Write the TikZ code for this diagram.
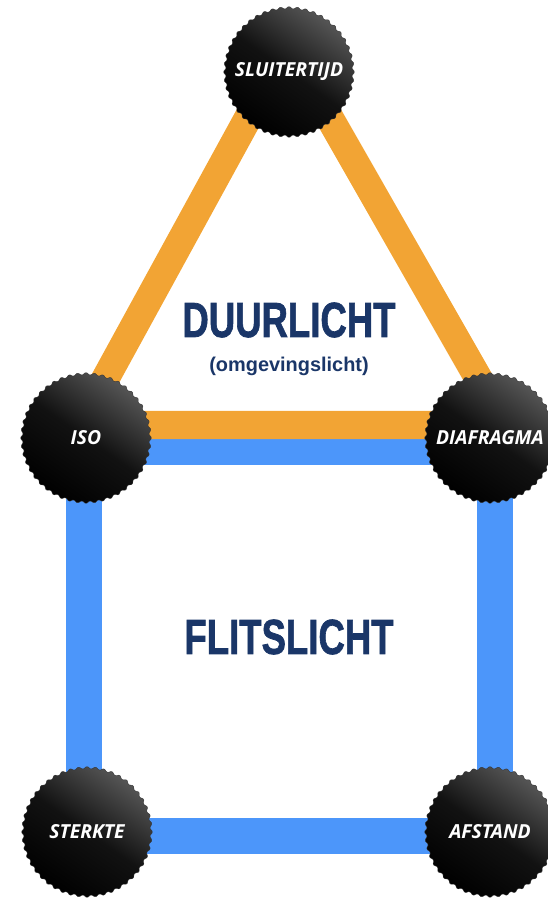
\documentclass[tikz,border=0pt]{standalone}
\usepackage{fontspec}
\setmainfont{Liberation Sans}
\setsansfont{Open Sans}
\newfontfamily\dikfont[BoldFeatures={FakeBold=1.6}]{Liberation Sans}
\usetikzlibrary{shapes.geometric,calc}
\definecolor{duurorange}{RGB}{242,164,52}
\definecolor{flitsblue}{RGB}{76,150,250}
\definecolor{titelblauw}{RGB}{26,54,104}
\newcommand{\knoptekst}[1]{\makebox[0pt]{#1}}

\tikzset{
	knop/.style={star,star points=48,star point ratio=1.05,minimum size=3.95cm,inner sep=0pt,
		rounded corners=0.9pt,top color=black!66,bottom color=black,middle color=black!93,shading angle=-35,
		draw=black!80,line width=0.3pt,text=white,font=\sffamily\bfseries\itshape\fontsize{16.5}{19}\selectfont},
	titel/.style={text=titelblauw,inner sep=0pt,font=\dikfont\bfseries\fontsize{40}{44}\selectfont},
	oranjebalk/.style={draw=duurorange,line width=24pt,line join=miter},
	blauwbalk/.style={draw=flitsblue,line width=30pt,line join=miter}
}

\begin{document}
\begin{tikzpicture}[x=0.03cm,y=-0.03cm]
		\useasboundingbox (0,0) rectangle (547,900);
		% knoppen
		\coordinate (SLc) at (289,72);
		\coordinate (ISOc) at (86,438);
		\coordinate (DIAc) at (490,438);
		\coordinate (STEc) at (87,832);
		\coordinate (AFSc) at (490,832);
		% flitslicht (vierkant)
		\draw[blauwbalk] ($(ISOc)+(-2,9)$) -- ($(DIAc)+(5,9)$) -- ($(AFSc)+(5,4)$) -- ($(STEc)+(-3,4)$) -- cycle;
		% duurlicht (driehoek)
		\draw[oranjebalk] ($(SLc)+(-1,-27)$) -- ($(DIAc)+(15,-13)$) -- ($(ISOc)+(-6,-13)$) -- cycle;
		\node[knop] (SL) at (SLc) {\knoptekst{SLUITERTIJD}};
		\node[knop] (ISO) at (ISOc) {\knoptekst{ISO}};
		\node[knop] (DIA) at (DIAc) {\knoptekst{DIAFRAGMA}};
		\node[knop] (STE) at (STEc) {\knoptekst{STERKTE}};
		\node[knop] (AFS) at (AFSc) {\knoptekst{AFSTAND}};
		% titels
		\node[titel] (DL) at (289,320) {\scalebox{0.78}[1.05]{DUURLICHT}};
		\node[text=titelblauw,font=\bfseries\fontsize{17}{20}\selectfont] (OG) at (289,366) {(omgevingslicht)};
		\node[titel] (FL) at (289,637) {\scalebox{0.78}[1.05]{FLITSLICHT}};
\end{tikzpicture}
\end{document}
